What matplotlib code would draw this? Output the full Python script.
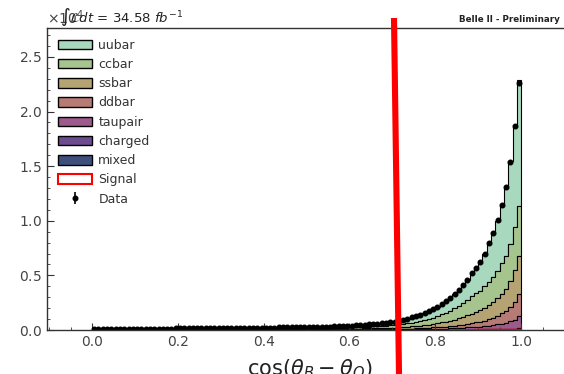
import numpy as np
import matplotlib
matplotlib.use("Agg")
import matplotlib.pyplot as plt
from matplotlib.patches import Patch
from matplotlib.lines import Line2D
from matplotlib.ticker import MultipleLocator

# cos(theta_B - theta_O): 100 bins between 0 and 1
bin_edges = np.linspace(0.0, 1.0, 101)
bin_centers = 0.5 * (bin_edges[:-1] + bin_edges[1:])

# Expected events per bin for each MC component
mixed = [0] * 50 + [1] * 20 + [
    2, 2, 2, 2, 2, 3, 3, 3, 3, 4,
    4, 5, 5, 6, 7, 7, 8, 9, 10, 11,
    12, 14, 16, 18, 20, 23, 26, 31, 38, 46]
charged = [1] * 50 + [
    1, 1, 1, 2, 2, 2, 2, 2, 2, 2,
    2, 2, 2, 2, 3, 3, 3, 3, 3, 4,
    4, 4, 5, 5, 6, 6, 7, 8, 9, 10,
    11, 12, 13, 15, 17, 18, 21, 23, 26, 29,
    31, 35, 40, 45, 50, 58, 65, 78, 94, 115]
taupair = [
    5, 5, 6, 5, 6, 6, 6, 6, 6, 6,
    6, 6, 7, 6, 7, 7, 7, 7, 7, 7,
    7, 7, 8, 8, 8, 8, 8, 8, 9, 9,
    9, 10, 10, 10, 10, 11, 11, 11, 11, 12,
    12, 12, 12, 12, 13, 13, 13, 13, 14, 14,
    14, 15, 15, 16, 16, 17, 18, 19, 20, 21,
    22, 23, 24, 25, 27, 29, 30, 32, 34, 37,
    33, 36, 40, 44, 49, 54, 60, 67, 74, 82,
    91, 102, 114, 127, 142, 159, 177, 198, 221, 241,
    267, 301, 348, 392, 440, 506, 572, 682, 827, 1099]
ddbar = [
    8, 8, 9, 8, 9, 9, 9, 10, 9, 10,
    10, 10, 10, 10, 10, 10, 10, 11, 10, 11,
    11, 11, 12, 12, 12, 13, 13, 13, 14, 14,
    14, 14, 14, 15, 15, 16, 16, 17, 17, 18,
    18, 18, 18, 18, 19, 19, 20, 20, 21, 21,
    22, 22, 23, 24, 25, 26, 27, 28, 30, 31,
    33, 34, 36, 38, 41, 43, 46, 49, 52, 56,
    53, 59, 65, 72, 80, 88, 98, 109, 120, 133,
    148, 166, 186, 207, 231, 258, 288, 322, 360, 408,
    446, 518, 593, 685, 790, 932, 1079, 1318, 1636, 1992]
ssbar = [
    15, 15, 17, 15, 17, 17, 17, 18, 17, 18,
    18, 18, 20, 18, 20, 20, 20, 21, 20, 21,
    21, 21, 23, 23, 23, 24, 24, 24, 26, 26,
    26, 27, 27, 29, 29, 30, 30, 32, 32, 33,
    33, 33, 35, 35, 36, 36, 38, 38, 39, 39,
    41, 42, 44, 45, 47, 48, 51, 53, 56, 59,
    62, 65, 68, 72, 77, 81, 86, 92, 98, 105,
    129, 143, 158, 175, 194, 214, 238, 264, 291, 323,
    360, 403, 451, 503, 561, 627, 700, 782, 874, 976,
    1042, 1162, 1296, 1442, 1600, 1817, 2028, 2387, 2858, 3504]
ccbar = [
    31, 31, 34, 31, 34, 34, 34, 37, 34, 37,
    37, 37, 40, 37, 40, 40, 40, 43, 40, 43,
    43, 43, 47, 47, 47, 50, 50, 50, 53, 53,
    53, 56, 56, 59, 59, 62, 62, 65, 65, 68,
    68, 68, 71, 71, 74, 74, 78, 78, 81, 81,
    84, 87, 90, 93, 96, 99, 105, 109, 115, 121,
    127, 133, 140, 149, 158, 167, 177, 189, 202, 217,
    236, 260, 288, 319, 353, 391, 434, 481, 530, 589,
    657, 735, 822, 918, 1023, 1144, 1277, 1426, 1593, 1722,
    1798, 1960, 2133, 2314, 2500, 2760, 2990, 3410, 3948, 4580]
uubar = [
    40, 40, 44, 40, 44, 44, 44, 48, 44, 48,
    48, 48, 52, 48, 52, 52, 52, 56, 52, 56,
    56, 56, 60, 60, 60, 64, 64, 64, 68, 68,
    68, 72, 72, 76, 76, 80, 80, 84, 84, 88,
    88, 88, 92, 92, 96, 96, 100, 100, 104, 104,
    108, 112, 116, 120, 124, 128, 136, 140, 148, 156,
    164, 172, 180, 192, 204, 216, 228, 244, 260, 280,
    304, 336, 372, 412, 456, 504, 560, 620, 684, 760,
    848, 948, 1060, 1184, 1320, 1476, 1648, 1840, 2056, 2353,
    2604, 3010, 3476, 4005, 4600, 5405, 6240, 7595, 9400, 11565]

signal = [
    2, 2, 2, 3, 2, 3, 3, 3, 3, 3,
    3, 3, 3, 4, 3, 4, 4, 4, 4, 4,
    4, 4, 5, 4, 5, 5, 5, 5, 5, 6,
    6, 6, 6, 6, 7, 7, 7, 7, 8, 8,
    8, 8, 9, 9, 9, 10, 10, 10, 11, 11,
    12, 12, 13, 13, 14, 14, 15, 16, 16, 17,
    18, 19, 20, 20, 21, 22, 23, 24, 25, 26,
    27, 28, 29, 30, 31, 32, 33, 34, 35, 36,
    37, 38, 39, 40, 41, 42, 43, 44, 45, 46,
    47, 48, 49, 50, 51, 52, 53, 54, 55, 56]

data = [
    104, 97, 108, 103, 112, 106, 115, 118, 109, 121,
    117, 125, 128, 119, 134, 127, 131, 137, 135, 142,
    138, 145, 149, 153, 147, 158, 163, 155, 168, 172,
    166, 177, 184, 186, 193, 197, 204, 206, 214, 217,
    225, 219, 228, 236, 238, 245, 247, 256, 258, 265,
    268, 283, 287, 296, 314, 318, 337, 356, 364, 392,
    405, 437, 448, 476, 514, 537, 575, 604, 656, 694,
    768, 831, 942, 1019, 1152, 1248, 1413, 1537, 1726, 1884,
    2138, 2352, 2671, 2938, 3326, 3662, 4151, 4572, 5178, 5706,
    6240, 6950, 7960, 8840, 10060, 11410, 13090, 15380, 18650, 22600]

# bottom-to-top stacking order
components = [mixed, charged, taupair, ddbar, ssbar, ccbar, uubar]
names = ["mixed", "charged", "taupair", "ddbar", "ssbar", "ccbar", "uubar"]
colors = ["#3f4f7c", "#6c4b8e", "#9c5b8c", "#b77b76", "#b5a373", "#a6c48e", "#a8d8be"]

W, H = 564, 374
fig = plt.figure(figsize=(W / 100, H / 100), dpi=100)
ax = fig.add_axes([47 / W, 44 / H, (572.6 - 47) / W, (330 - 28) / H])

ax.hist([bin_centers] * len(components), bins=bin_edges, weights=components,
        stacked=True, histtype="stepfilled", color=colors,
        edgecolor="black", linewidth=0.8)
ax.hist(bin_centers, bins=bin_edges, weights=signal, histtype="step",
        color="red", linewidth=1.0)
data_arr = np.array(data, dtype=float)
eb = ax.errorbar(bin_centers, data_arr, yerr=np.sqrt(data_arr), fmt="o",
                 color="black", ms=3.3, elinewidth=1.2, capsize=0)

ax.set_xlim(-0.105, 1.12)
ax.set_ylim(0, 27650)
ax.xaxis.set_major_locator(MultipleLocator(0.2))
ax.xaxis.set_minor_locator(MultipleLocator(0.05))
ax.yaxis.set_major_locator(MultipleLocator(5000))
ax.yaxis.set_minor_locator(MultipleLocator(1000))
ax.ticklabel_format(axis="y", style="sci", scilimits=(0, 0), useMathText=True)
ax.tick_params(which="both", direction="in", labelsize=10, labelcolor="#444444",
               color="#333333", top=False, right=False)
ax.tick_params(which="major", length=5)
ax.tick_params(which="minor", length=2.5)
ax.yaxis.get_offset_text().set_color("#444444")
ax.yaxis.get_offset_text().set_fontsize(10)
for s in ax.spines.values():
    s.set_color("#333333")
    s.set_linewidth(1.0)

ax.set_xlabel(r"$\cos(\theta_B - \theta_O)$", fontsize=15, color="#222222", labelpad=6)

# legend: top component first
handles = [Patch(facecolor=c, edgecolor="black", linewidth=1.0)
           for c in colors[::-1]]
labels = names[::-1]
handles.append(Patch(facecolor="white", edgecolor="red", linewidth=1.5))
labels.append("Signal")
handles.append(eb)
labels.append("Data")
leg = ax.legend(handles, labels, loc="upper left", bbox_to_anchor=(0.0, 1.002),
                frameon=False, fontsize=9, handlelength=2.7, handleheight=0.8,
                labelspacing=0.5, handletextpad=0.5, borderaxespad=0.5)
for t in leg.get_texts():
    t.set_color("#333333")

fig.text(60 / W, 1 - 17 / H, r"$\int\mathcal{L}dt$ = 34.58 $fb^{-1}$",
         fontsize=9.5, color="#222222", va="center", ha="left")
fig.text(459 / W, 1 - 19 / H, "Belle II - Preliminary", fontsize=6.3,
         fontweight="bold", color="#222222", va="center", ha="left")

# cut position marker
fig.add_artist(Line2D([394 / W, 399 / W], [1 - 18 / H, 0.0],
                      transform=fig.transFigure, color="red", linewidth=4.4,
                      solid_capstyle="butt"))

fig.savefig("out.png", dpi=100)
